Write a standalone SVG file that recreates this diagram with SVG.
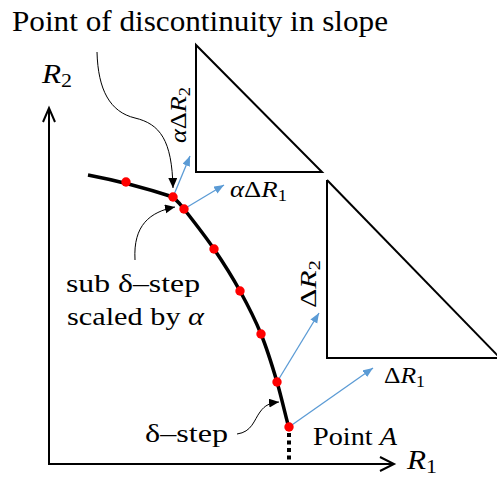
<svg xmlns="http://www.w3.org/2000/svg" width="497" height="479" viewBox="0 0 497 479">
<style>
text{font-family:"Liberation Serif","DejaVu Serif",serif;fill:#000}
.it{font-style:italic}
.ax{stroke:#000;stroke-width:2;fill:none}
.tri{stroke:#000;stroke-width:2;fill:none;stroke-linejoin:miter}
.ann{stroke:#000;stroke-width:1;fill:none}
.blue{stroke:#5B9BD5;stroke-width:1.3;fill:none}
.dot{fill:#FF0000}
</style>
<defs>
<marker id="ah" markerUnits="userSpaceOnUse" markerWidth="12" markerHeight="10" refX="10" refY="4.5" orient="auto">
<path d="M0,0 L10,4.5 L0,9 Z" fill="#000"/>
</marker>
<marker id="bh" markerUnits="userSpaceOnUse" markerWidth="12" markerHeight="10" refX="10" refY="4" orient="auto">
<path d="M0,0 L10,4 L0,8 Z" fill="#5B9BD5"/>
</marker>
</defs>
<g id="axes">
<path class="ax" d="M49,109 L49,464 L393,464"/>
<path class="ax" d="M43,122 L49,108 L55,122"/>
<path class="ax" d="M380,457 L394,464 L380,471"/>
<text x="42" y="83" font-size="27" textLength="30" lengthAdjust="spacingAndGlyphs"><tspan class="it">R</tspan><tspan font-size="19" dy="4">2</tspan></text>
<text x="407" y="469" font-size="27" textLength="30" lengthAdjust="spacingAndGlyphs"><tspan class="it">R</tspan><tspan font-size="19" dy="4">1</tspan></text>
</g>
<g id="triangle-small">
<path class="tri" d="M196,45 L196,172 L322,172 Z"/>
<text transform="translate(186,143) rotate(-90)" font-size="23" textLength="56" lengthAdjust="spacingAndGlyphs"><tspan class="it">α</tspan>Δ<tspan class="it">R</tspan><tspan font-size="16" dy="4">2</tspan></text>
<text x="230" y="197" font-size="23" textLength="57" lengthAdjust="spacingAndGlyphs"><tspan class="it">α</tspan>Δ<tspan class="it">R</tspan><tspan font-size="16" dy="4">1</tspan></text>
</g>
<g id="triangle-large">
<path class="tri" d="M327,180 L327,358 L500,358"/>
<path class="tri" d="M327,180 L500,358"/>
<text transform="translate(316,308) rotate(-90)" font-size="23" textLength="48" lengthAdjust="spacingAndGlyphs">Δ<tspan class="it">R</tspan><tspan font-size="16" dy="4">2</tspan></text>
<text x="384" y="383" font-size="23" textLength="41" lengthAdjust="spacingAndGlyphs">Δ<tspan class="it">R</tspan><tspan font-size="16" dy="4">1</tspan></text>
</g>
<g id="connectors">
<path class="blue" marker-end="url(#bh)" d="M173,197 L190,156"/>
<path class="blue" marker-end="url(#bh)" d="M184,209 L224,185"/>
<path class="blue" marker-end="url(#bh)" d="M277,382 L319,313"/>
<path class="blue" marker-end="url(#bh)" d="M289,427 L373,368"/>
<path class="ann" marker-end="url(#ah)" d="M97,52 C98,90 110,112 135,118 C160,124 172,140 173,188"/>
<path class="ann" marker-end="url(#ah)" d="M135,260 C133,225 150,212 175,207"/>
<path class="ann" marker-end="url(#ah)" d="M237,434 C252,432 254,420 260,412 C265,405 270,403 279,402"/>
</g>
<g id="curve">
<path d="M88,175 Q130,183 173,197 C174.8,199 177.2,200.3 184,209 C190.8,217.7 204.7,235.3 214,249 C223.3,262.7 232.2,276.8 240,291 C247.8,305.2 254.8,318.8 261,334 C267.2,349.2 272.3,366 277,382 C281.7,398 287,422 289,428" stroke="#000" stroke-width="3.5" fill="none"/>
<path d="M289,433 L289,461" stroke="#000" stroke-width="4" stroke-dasharray="4 3.5" fill="none"/>
<circle class="dot" cx="126" cy="182" r="4.7"/>
<circle class="dot" cx="173" cy="197" r="4.7"/>
<circle class="dot" cx="184" cy="209" r="4.7"/>
<circle class="dot" cx="214" cy="249" r="4.7"/>
<circle class="dot" cx="240" cy="291" r="4.7"/>
<circle class="dot" cx="261" cy="334" r="4.7"/>
<circle class="dot" cx="277" cy="382" r="4.7"/>
<circle class="dot" cx="289" cy="427" r="4.7"/>
</g>
<g id="labels">
<text x="12" y="31" font-size="29" textLength="376" lengthAdjust="spacingAndGlyphs">Point of discontinuity in slope</text>
<text x="66" y="292" font-size="25" textLength="134" lengthAdjust="spacingAndGlyphs">sub δ–step</text>
<text x="67" y="325" font-size="25" textLength="137" lengthAdjust="spacingAndGlyphs">scaled by <tspan class="it">α</tspan></text>
<text x="145" y="442" font-size="25" textLength="83" lengthAdjust="spacingAndGlyphs">δ–step</text>
<text x="313" y="445" font-size="26" textLength="84" lengthAdjust="spacingAndGlyphs">Point <tspan class="it">A</tspan></text>
</g>
</svg>
